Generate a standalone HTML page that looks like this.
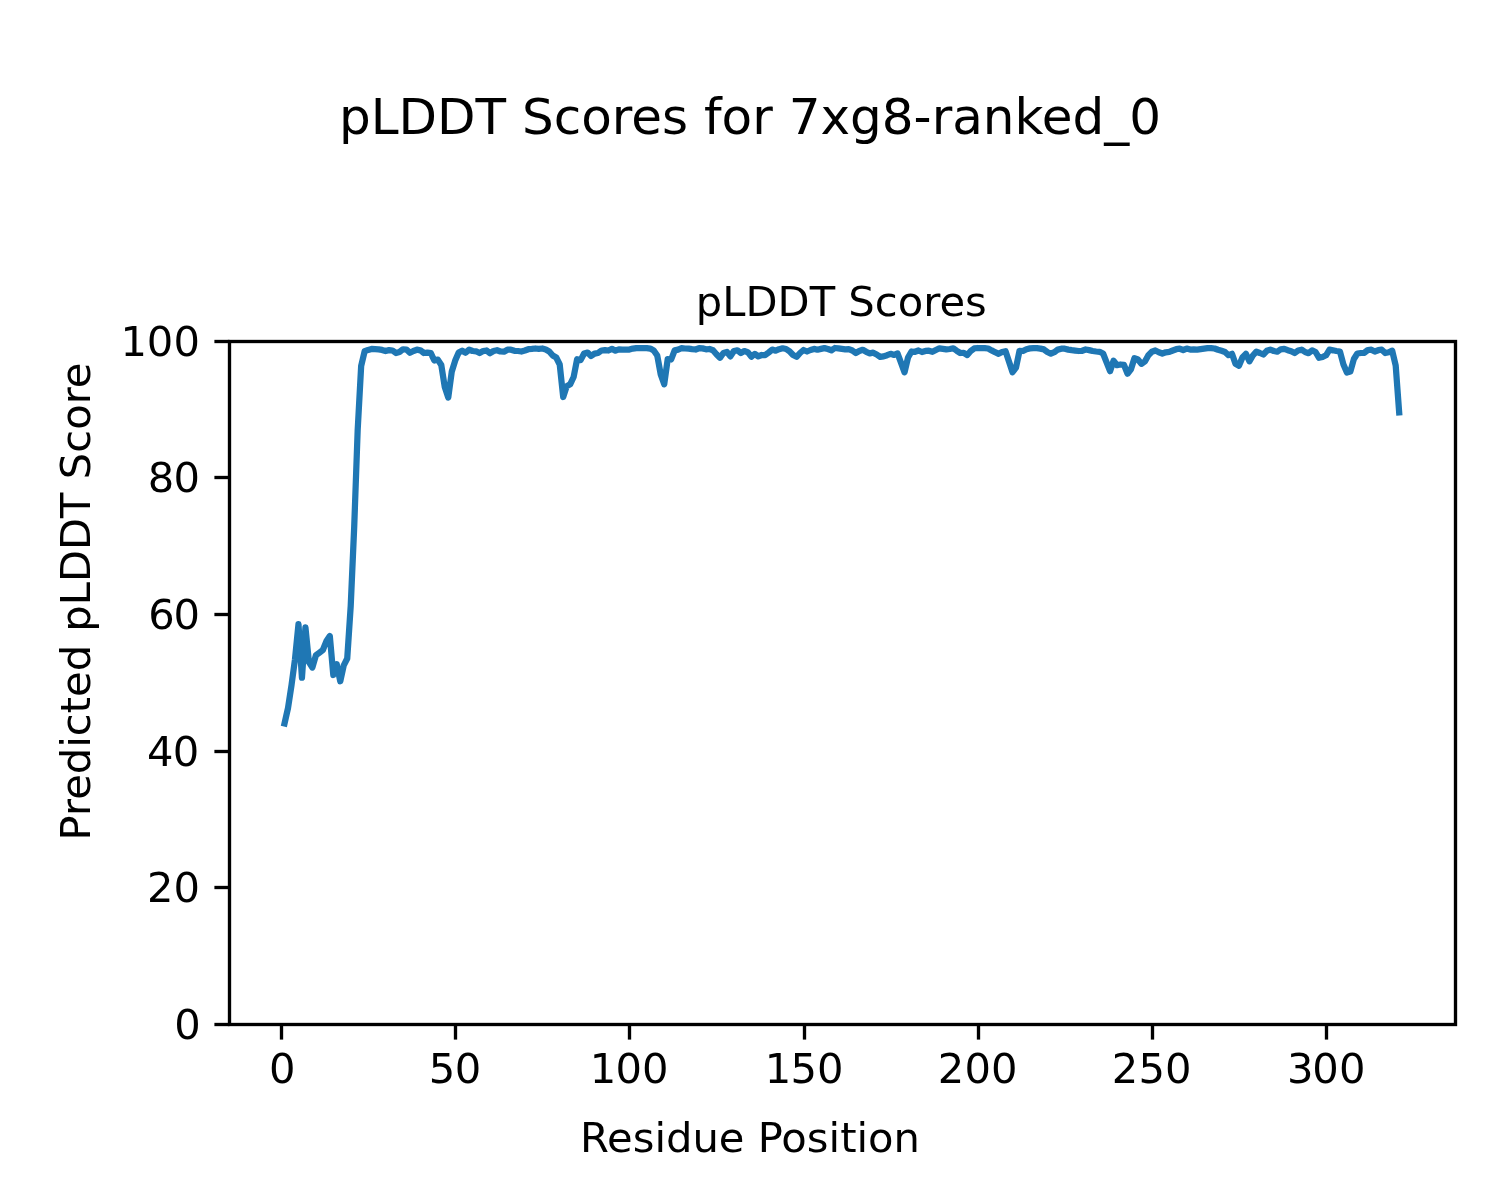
<!DOCTYPE html>
<html lang="en">
<head>
<meta charset="utf-8">
<title>pLDDT Scores for 7xg8-ranked_0</title>
<style>
html,body{margin:0;padding:0;background:#fff;}
body{width:1500px;height:1200px;overflow:hidden;}
svg{display:block;}
text{font-family:"DejaVu Sans","Liberation Sans",sans-serif;fill:#000;}
.t10{font-size:41.667px;}
.tk{font-size:41.667px;letter-spacing:-0.4px;}
.t12{font-size:50px;}
</style>
</head>
<body>
<svg width="1500" height="1200" viewBox="0 0 1500 1200">
<rect x="0" y="0" width="1500" height="1200" fill="#ffffff"/>

<clipPath id="ax"><rect x="228.8" y="340.8" width="1226.1" height="683.1"/></clipPath>
<path d="M284.53 723.50 L288.02 708.00 L291.50 685.30 L294.98 659.30 L298.47 624.20 L301.95 677.70 L305.43 627.40 L308.92 662.00 L312.40 667.50 L315.88 655.30 L319.37 652.70 L322.85 650.00 L326.33 641.30 L329.82 636.00 L333.30 675.00 L336.78 664.30 L340.27 681.30 L343.75 665.30 L347.23 658.50 L350.71 606.00 L354.20 527.00 L357.68 430.00 L361.16 366.00 L364.65 351.20 L368.13 349.90 L371.61 348.90 L375.10 349.10 L378.58 349.30 L382.06 349.90 L385.55 351.00 L389.03 350.10 L392.51 350.50 L396.00 353.00 L399.48 352.00 L402.96 349.30 L406.45 349.50 L409.93 352.80 L413.41 351.00 L416.90 349.70 L420.38 350.30 L423.86 353.00 L427.35 352.60 L430.83 353.20 L434.31 360.50 L437.80 359.60 L441.28 365.00 L444.76 387.00 L448.25 397.60 L451.73 371.80 L455.21 360.60 L458.70 352.60 L462.18 350.70 L465.66 352.70 L469.14 349.70 L472.63 351.00 L476.11 351.30 L479.59 353.00 L483.08 351.10 L486.56 350.50 L490.04 353.20 L493.53 351.00 L497.01 350.20 L500.49 351.50 L503.98 351.70 L507.46 349.70 L510.94 349.70 L514.43 350.80 L517.91 351.00 L521.39 351.50 L524.88 350.50 L528.36 349.20 L531.84 348.90 L535.33 348.50 L538.81 348.80 L542.29 348.50 L545.78 349.50 L549.26 351.50 L552.74 355.50 L556.23 357.50 L559.71 364.50 L563.19 397.00 L566.68 386.20 L570.16 384.30 L573.64 377.00 L577.13 359.20 L580.61 360.10 L584.09 353.50 L587.58 352.60 L591.06 356.00 L594.54 353.60 L598.02 353.00 L601.51 350.50 L604.99 350.10 L608.47 350.50 L611.96 348.90 L615.44 350.70 L618.92 349.30 L622.41 349.60 L625.89 349.70 L629.37 349.60 L632.86 348.60 L636.34 348.10 L639.82 348.10 L643.31 348.10 L646.79 348.10 L650.27 348.60 L653.76 350.50 L657.24 355.50 L660.72 374.40 L664.21 384.20 L667.69 359.20 L671.17 359.50 L674.66 350.40 L678.14 349.60 L681.62 348.20 L685.11 348.50 L688.59 348.70 L692.07 349.20 L695.56 349.50 L699.04 348.20 L702.52 348.40 L706.01 349.30 L709.49 349.00 L712.97 350.20 L716.45 354.30 L719.94 357.80 L723.42 353.00 L726.90 352.00 L730.39 356.40 L733.87 351.00 L737.35 350.30 L740.84 353.00 L744.32 351.10 L747.80 352.20 L751.29 356.70 L754.77 353.90 L758.25 356.40 L761.74 355.00 L765.22 355.10 L768.70 352.50 L772.19 349.60 L775.67 350.70 L779.15 349.20 L782.64 348.30 L786.12 349.00 L789.60 351.30 L793.09 355.00 L796.57 356.80 L800.05 353.00 L803.54 350.00 L807.02 351.50 L810.50 350.00 L813.99 348.90 L817.47 349.70 L820.95 348.90 L824.44 348.10 L827.92 349.00 L831.40 350.30 L834.89 348.00 L838.37 348.40 L841.85 348.90 L845.33 349.40 L848.82 349.10 L852.30 350.50 L855.78 353.00 L859.27 351.00 L862.75 349.80 L866.23 351.80 L869.72 353.30 L873.20 352.70 L876.68 354.50 L880.17 356.90 L883.65 356.40 L887.13 355.20 L890.62 353.80 L894.10 354.90 L897.58 353.50 L901.07 362.90 L904.55 372.30 L908.03 357.50 L911.52 351.50 L915.00 351.80 L918.48 350.50 L921.97 352.00 L925.45 350.90 L928.93 350.70 L932.42 351.80 L935.90 350.00 L939.38 348.30 L942.87 348.80 L946.35 349.40 L949.83 349.00 L953.32 348.30 L956.80 350.80 L960.28 353.00 L963.77 352.80 L967.25 355.00 L970.73 351.00 L974.21 348.40 L977.70 348.00 L981.18 348.10 L984.66 348.10 L988.15 348.50 L991.63 350.40 L995.11 352.20 L998.60 353.80 L1002.08 352.00 L1005.56 351.20 L1009.05 361.70 L1012.53 372.20 L1016.01 367.70 L1019.50 350.80 L1022.98 351.00 L1026.46 349.20 L1029.95 348.40 L1033.43 348.10 L1036.91 348.10 L1040.40 348.60 L1043.88 349.40 L1047.36 352.00 L1050.85 353.70 L1054.33 352.20 L1057.81 349.60 L1061.30 348.70 L1064.78 348.70 L1068.26 349.60 L1071.75 350.20 L1075.23 350.60 L1078.71 351.00 L1082.20 350.80 L1085.68 349.50 L1089.16 350.10 L1092.64 351.00 L1096.13 351.50 L1099.61 351.80 L1103.09 353.50 L1106.58 362.40 L1110.06 371.20 L1113.54 360.80 L1117.03 365.20 L1120.51 364.50 L1123.99 364.80 L1127.48 373.70 L1130.96 369.30 L1134.44 358.20 L1137.93 359.50 L1141.41 363.80 L1144.89 361.50 L1148.38 355.20 L1151.86 351.80 L1155.34 350.50 L1158.83 352.20 L1162.31 353.50 L1165.79 352.30 L1169.28 351.90 L1172.76 350.50 L1176.24 349.20 L1179.73 348.70 L1183.21 350.00 L1186.69 348.60 L1190.18 349.60 L1193.66 349.40 L1197.14 349.60 L1200.63 349.10 L1204.11 348.60 L1207.59 348.10 L1211.08 348.10 L1214.56 348.50 L1218.04 349.80 L1221.52 350.80 L1225.01 352.00 L1228.49 355.20 L1231.97 353.80 L1235.46 363.80 L1238.94 365.80 L1242.42 357.50 L1245.91 353.80 L1249.39 361.30 L1252.87 355.50 L1256.36 351.70 L1259.84 353.00 L1263.32 354.50 L1266.81 350.80 L1270.29 349.60 L1273.77 351.00 L1277.26 351.70 L1280.74 349.30 L1284.22 348.80 L1287.71 350.20 L1291.19 351.20 L1294.67 353.00 L1298.16 350.50 L1301.64 349.70 L1305.12 352.00 L1308.61 353.20 L1312.09 350.30 L1315.57 352.00 L1319.06 357.80 L1322.54 357.00 L1326.02 355.30 L1329.51 349.70 L1332.99 350.30 L1336.47 351.00 L1339.95 351.50 L1343.44 364.50 L1346.92 372.50 L1350.40 371.50 L1353.89 359.00 L1357.37 353.50 L1360.85 353.00 L1364.34 352.80 L1367.82 350.00 L1371.30 349.70 L1374.79 351.50 L1378.27 350.20 L1381.75 349.70 L1385.24 353.00 L1388.72 352.30 L1392.20 350.70 L1395.69 365.50 L1399.17 412.30" fill="none" stroke="#1f77b4" stroke-width="6.25" stroke-linejoin="round" stroke-linecap="square" clip-path="url(#ax)"/>
<line x1="281.50" y1="1024.50" x2="281.50" y2="1039.60" stroke="#000" stroke-width="3.333"/>
<text class="t10" x="269.10" y="1082.9">0</text>
<line x1="455.50" y1="1024.50" x2="455.50" y2="1039.60" stroke="#000" stroke-width="3.333"/>
<text class="t10" x="428.75 454.75" y="1082.9">50</text>
<line x1="629.50" y1="1024.50" x2="629.50" y2="1039.60" stroke="#000" stroke-width="3.333"/>
<text class="t10" x="589.70 615.40 641.90" y="1082.9">100</text>
<line x1="804.50" y1="1024.50" x2="804.50" y2="1039.60" stroke="#000" stroke-width="3.333"/>
<text class="t10" x="764.70 790.45 817.10" y="1082.9">150</text>
<line x1="978.50" y1="1024.50" x2="978.50" y2="1039.60" stroke="#000" stroke-width="3.333"/>
<text class="t10" x="937.70 964.40 990.90" y="1082.9">200</text>
<line x1="1152.50" y1="1024.50" x2="1152.50" y2="1039.60" stroke="#000" stroke-width="3.333"/>
<text class="t10" x="1111.75 1138.50 1165.05" y="1082.9">250</text>
<line x1="1326.50" y1="1024.50" x2="1326.50" y2="1039.60" stroke="#000" stroke-width="3.333"/>
<text class="t10" x="1286.90 1312.25 1339.10" y="1082.9">300</text>
<line x1="214.40" y1="1024.50" x2="229.50" y2="1024.50" stroke="#000" stroke-width="3.333"/>
<text class="t10" x="174.20" y="1039.00">0</text>
<line x1="214.40" y1="887.50" x2="229.50" y2="887.50" stroke="#000" stroke-width="3.333"/>
<text class="t10" x="146.90 173.50" y="902.00">20</text>
<line x1="214.40" y1="751.50" x2="229.50" y2="751.50" stroke="#000" stroke-width="3.333"/>
<text class="t10" x="147.10 172.80" y="766.00">40</text>
<line x1="214.40" y1="614.50" x2="229.50" y2="614.50" stroke="#000" stroke-width="3.333"/>
<text class="t10" x="148.30 173.50" y="629.00">60</text>
<line x1="214.40" y1="477.50" x2="229.50" y2="477.50" stroke="#000" stroke-width="3.333"/>
<text class="t10" x="147.80 173.50" y="492.00">80</text>
<line x1="214.40" y1="341.50" x2="229.50" y2="341.50" stroke="#000" stroke-width="3.333"/>
<text class="t10" x="120.40 146.75 173.40" y="356.00">100</text>
<rect x="229.50" y="341.50" width="1226.00" height="683.00" fill="none" stroke="#000" stroke-width="3.333" stroke-linejoin="miter"/>
<text class="t12" x="750" y="134.2" text-anchor="middle">pLDDT Scores for 7xg8-ranked_0</text>
<text class="t10" x="841.3" y="316" text-anchor="middle">pLDDT Scores</text>
<text class="t10" x="750" y="1152.3" text-anchor="middle">Residue Position</text>
<text class="t10" transform="translate(89.5 601.5) rotate(-90)" text-anchor="middle">Predicted pLDDT Score</text>
</svg>
</body>
</html>
